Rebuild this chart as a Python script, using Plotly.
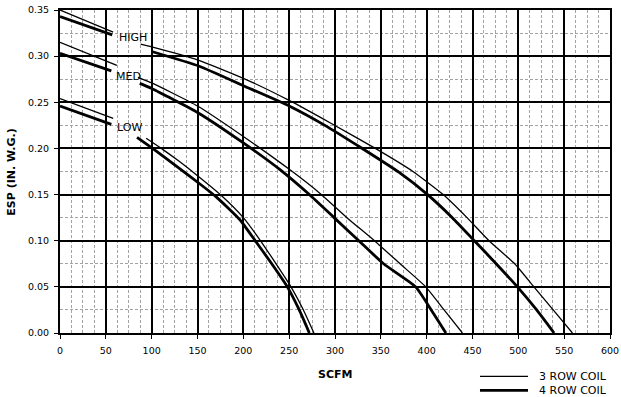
import plotly.graph_objects as go

# ---- data (SCFM vs ESP in. W.G.) ; None = gap where speed label sits ----
HIGH_3ROW_X = [0, 58, None, 88, 100, 150, 200, 250, 296, 344, 385, 418, 444, 468, 496, 517, 538, 559]
HIGH_3ROW_Y = [0.350, 0.326, None, 0.313, 0.310, 0.296, 0.276, 0.252, 0.227, 0.200, 0.175, 0.150, 0.125, 0.100, 0.075, 0.050, 0.025, 0.000]

HIGH_4ROW_X = [0, 57, None, 100, 152, 200, 250, 289, 328, 370, 401, 428, 452, 474, 499, 520, 539]
HIGH_4ROW_Y = [0.343, 0.323, None, 0.305, 0.289, 0.268, 0.246, 0.225, 0.201, 0.174, 0.150, 0.125, 0.100, 0.077, 0.050, 0.025, 0.000]

MED_3ROW_X = [0, 62, None, 85, 100, 150, 200, 252, 284, 313, 343, 371, 399, 419, 439]
MED_3ROW_Y = [0.315, 0.290, None, 0.277, 0.271, 0.246, 0.213, 0.176, 0.151, 0.125, 0.100, 0.075, 0.050, 0.025, 0.000]

MED_4ROW_X = [0, 56, None, 87, 100, 150, 200, 240, 272, 299, 326, 353, 388, 405, 421]
MED_4ROW_Y = [0.303, 0.284, None, 0.2705, 0.265, 0.239, 0.206, 0.177, 0.150, 0.125, 0.100, 0.075, 0.050, 0.025, 0.000]

LOW_3ROW_X = [0, 58, None, 94, 112, 130, 148, 176, 200, 218, 235, 252, 265, 277]
LOW_3ROW_Y = [0.254, 0.2325, None, 0.211, 0.199, 0.186, 0.172, 0.149, 0.125, 0.101, 0.076, 0.050, 0.026, 0.000]

LOW_4ROW_X = [0, 56, None, 84, 101, 128, 152, 171, 196, 213, 231, 248, 261, 272]
LOW_4ROW_Y = [0.246, 0.226, None, 0.212, 0.200, 0.180, 0.162, 0.147, 0.123, 0.100, 0.075, 0.050, 0.025, 0.000]

SPEED_LABELS = ["HIGH", "MED", "LOW"]
LABEL_X = [79.5, 75, 75.7]
LABEL_Y = [0.320, 0.278, 0.2226]

X_TICKS = list(range(0, 601, 50))
Y_TICKS = [0.00, 0.05, 0.10, 0.15, 0.20, 0.25, 0.30, 0.35]

FONT = "DejaVu Sans"
THIN = 1.3
THICK = 2.8

fig = go.Figure()
curves = [
    ("HIGH 3 ROW COIL", HIGH_3ROW_X, HIGH_3ROW_Y, THIN),
    ("HIGH 4 ROW COIL", HIGH_4ROW_X, HIGH_4ROW_Y, THICK),
    ("MED 3 ROW COIL", MED_3ROW_X, MED_3ROW_Y, THIN),
    ("MED 4 ROW COIL", MED_4ROW_X, MED_4ROW_Y, THICK),
    ("LOW 3 ROW COIL", LOW_3ROW_X, LOW_3ROW_Y, THIN),
    ("LOW 4 ROW COIL", LOW_4ROW_X, LOW_4ROW_Y, THICK),
]
for name, xs, ys, w in curves:
    fig.add_trace(go.Scatter(x=xs, y=ys, mode="lines", name=name,
                             line=dict(color="black", width=w, shape="spline", smoothing=0.5),
                             connectgaps=False, showlegend=False, hoverinfo="skip"))

for txt, lx, ly in zip(SPEED_LABELS, LABEL_X, LABEL_Y):
    fig.add_annotation(x=lx, y=ly, xref="x", yref="y", text=txt, showarrow=False,
                       font=dict(family=FONT, size=11, color="black"),
                       xanchor="center", yanchor="middle")

# axis titles
fig.add_annotation(x=0.5, y=-0.128, xref="paper", yref="paper", text="<b>SCFM</b>",
                   showarrow=False, font=dict(family=FONT, size=11, color="black"),
                   xanchor="center", yanchor="middle")
fig.add_annotation(x=-0.0873, y=0.4995, xref="paper", yref="paper", text="<b>ESP (IN. W.G.)</b>",
                   showarrow=False, textangle=-90, font=dict(family=FONT, size=11, color="black"),
                   xanchor="center", yanchor="middle")

# legend (drawn manually below the plot)
LEG_X0, LEG_X1, LEG_TX = 0.7636, 0.8509, 0.8673
LEG_ROWS = [("3 ROW COIL", THIN, -0.1342), ("4 ROW COIL", THICK, -0.1776)]
for txt, w, yy in LEG_ROWS:
    fig.add_shape(type="line", xref="paper", yref="paper", x0=LEG_X0, x1=LEG_X1, y0=yy, y1=yy,
                  line=dict(color="black", width=w))
    fig.add_annotation(x=LEG_TX, y=yy, xref="paper", yref="paper", text=txt, showarrow=False,
                       font=dict(family=FONT, size=11, color="black"),
                       xanchor="left", yanchor="middle")

axis_common = dict(
    showgrid=True, gridcolor="black", gridwidth=2,
    showline=True, linecolor="black", linewidth=2, mirror=True,
    ticks="outside", ticklen=4, tickcolor="black", tickwidth=1,
    zeroline=False, automargin=False, fixedrange=True,
    tickfont=dict(family=FONT, size=9.5, color="black"),
)
minor_common = dict(showgrid=True, gridcolor="#a3a3a3", griddash="3px,2px", gridwidth=1, ticks="")

fig.update_layout(
    width=621, height=397,
    margin=dict(l=60, r=11, t=10, b=64, pad=0),
    plot_bgcolor="white", paper_bgcolor="white",
    showlegend=False,
    font=dict(family=FONT, size=10, color="black"),
    xaxis=dict(range=[0, 600], tickvals=X_TICKS, ticktext=[str(v) for v in X_TICKS],
               minor=dict(dtick=12.5, tick0=0, **minor_common),
               ticklabelstandoff=4,
               **axis_common),
    yaxis=dict(range=[0, 0.35], tickvals=Y_TICKS, ticktext=[f"{v:.2f}" for v in Y_TICKS],
               minor=dict(dtick=0.025, tick0=0, **minor_common),
               ticklabelstandoff=3,
               **axis_common),
)

fig.write_html("out.html")
